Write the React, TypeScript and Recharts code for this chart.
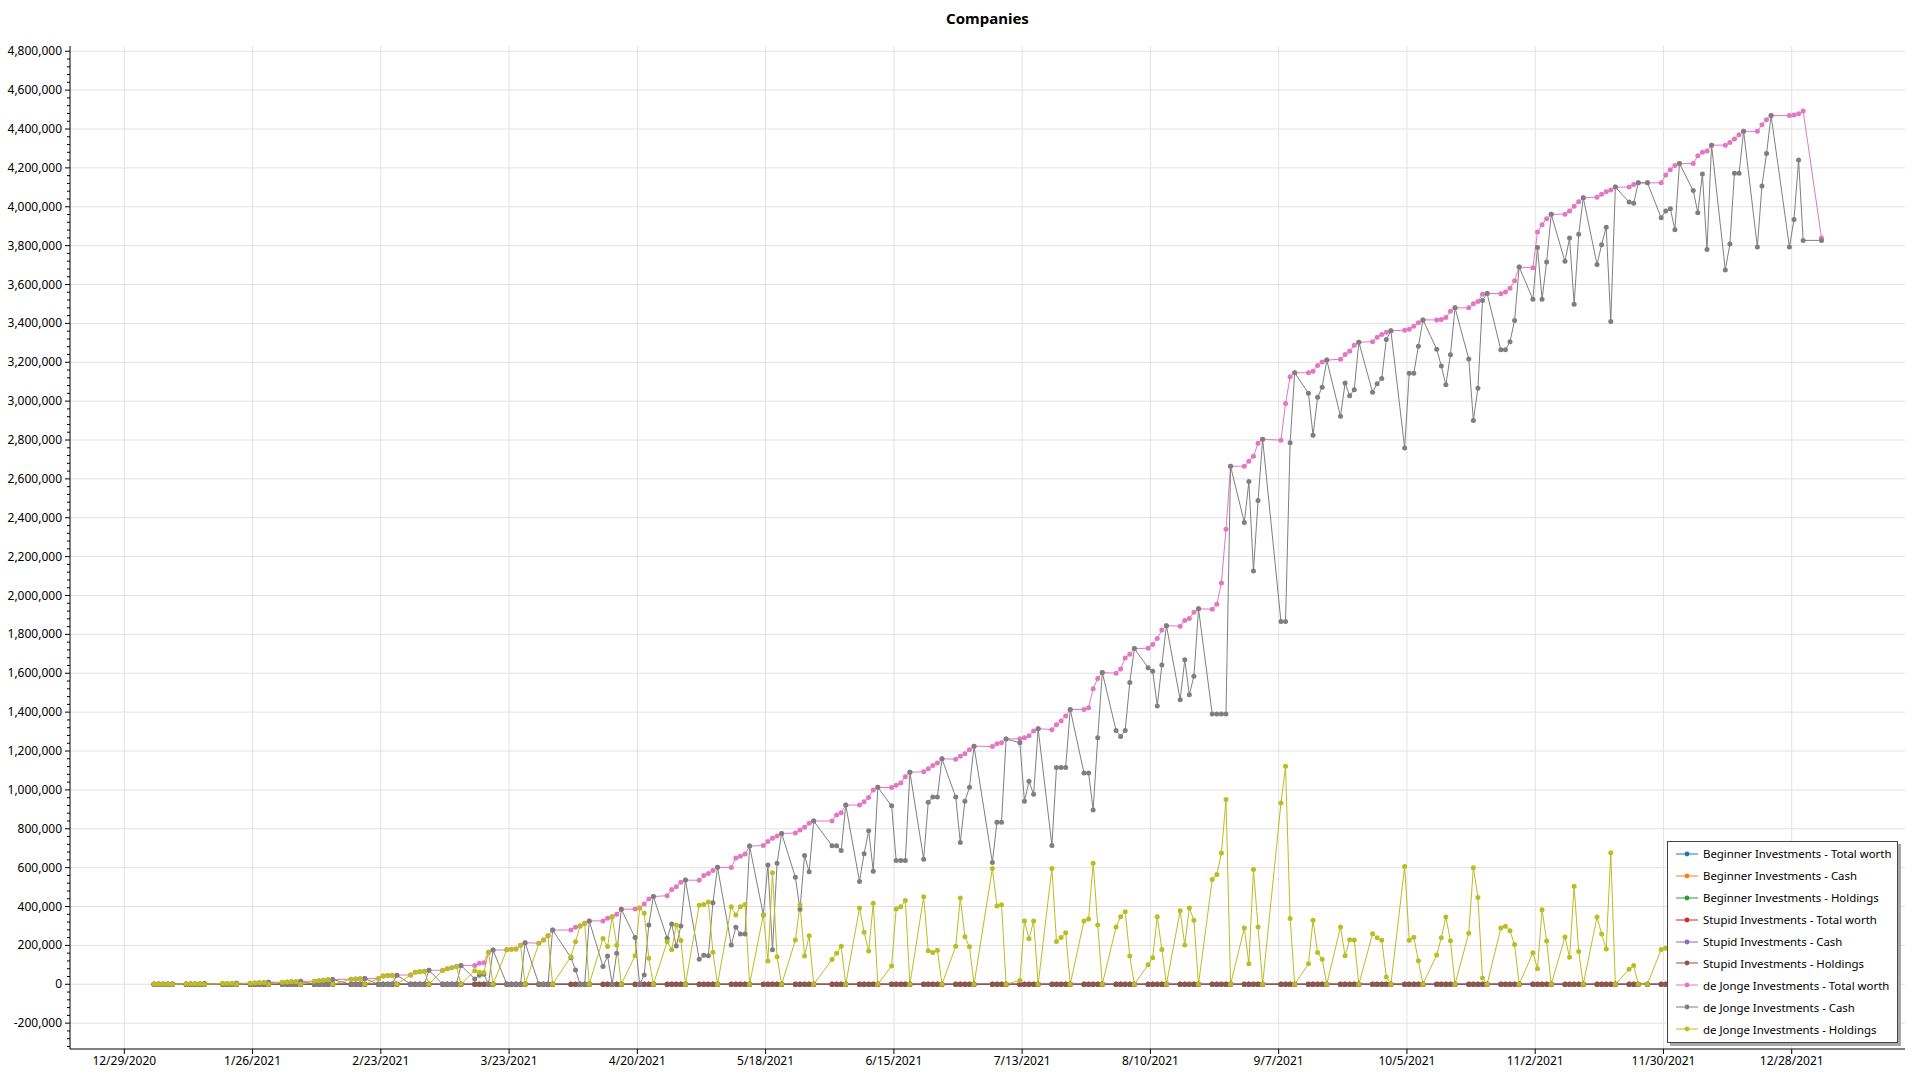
import React from 'react';
import { LineChart, Line, XAxis, YAxis, CartesianGrid, Legend } from 'recharts';

// US trading days of 2021 (plus the first one of 2022), market holidays skipped
const firstDay = '2021-01-04';
const lastDay = '2022-01-03';
const holidays = ['2021-01-18', '2021-02-15', '2021-04-02', '2021-05-31', '2021-07-05', '2021-09-06', '2021-11-25', '2021-12-24', '2021-12-31'];

const xTickDates = ['2020-12-29', '2021-01-26', '2021-02-23', '2021-03-23', '2021-04-20', '2021-05-18', '2021-06-15', '2021-07-13', '2021-08-10', '2021-09-07', '2021-10-05', '2021-11-02', '2021-11-30', '2021-12-28'];
const xDomainDates = ['2020-12-17T03:30:00Z', '2022-01-21T17:30:00Z'];

const yMajorTicks = [-200000, 0, 200000, 400000, 600000, 800000, 1000000, 1200000, 1400000, 1600000, 1800000, 2000000, 2200000, 2400000, 2600000, 2800000, 3000000, 3200000, 3400000, 3600000, 3800000, 4000000, 4200000, 4400000, 4600000, 4800000];
const yDomain = [-333000, 4827000];

// de Jonge Investments, one line per week
const deJongeTotal = [
  1000, 1200, 1500, 1700, 2000,
  2200, 2500, 2800, 3200, 3500,
  3800, 4200, 4600, 5000,
  5500, 6500, 7500, 8500, 10000,
  10500, 11500, 12500, 13500, 15000,
  16000, 18000, 21000, 23000, 24500,
  26000, 27500, 28500, 29500,
  30000, 43000, 44500, 45500, 47000,
  48000, 62000, 65000, 67000, 72000,
  72000, 80000, 85000, 91000, 97000,
  97000, 108000, 111000, 165000, 176000,
  177000, 180000, 182000, 201000, 214000,
  211000, 228000, 249000, 279000,
  279000, 293000, 300000, 314000, 326000,
  326000, 340000, 348000, 360000, 386000,
  387000, 393000, 413000, 439000, 451000,
  456000, 487000, 502000, 525000, 536000,
  535000, 559000, 570000, 585000, 602000,
  601000, 650000, 658000, 670000, 711000,
  714000, 734000, 751000, 763000, 776000,
  778000, 794000, 808000, 828000, 840000,
  840000, 871000, 883000, 922000,
  922000, 939000, 961000, 999000, 1013000,
  1012000, 1024000, 1036000, 1068000, 1091000,
  1093000, 1109000, 1126000, 1138000, 1160000,
  1158000, 1173000, 1186000, 1206000, 1225000,
  1223000, 1237000, 1243000, 1262000,
  1263000, 1268000, 1278000, 1303000, 1315000,
  1310000, 1335000, 1355000, 1380000, 1414000,
  1413000, 1423000, 1520000, 1573000, 1604000,
  1600000, 1622000, 1679000, 1698000, 1727000,
  1729000, 1748000, 1779000, 1822000, 1845000,
  1842000, 1871000, 1882000, 1914000, 1932000,
  1929000, 1955000, 2065000, 2341000, 2665000,
  2665000, 2691000, 2717000, 2783000, 2804000,
  2799000, 2988000, 3125000, 3146000,
  3146000, 3154000, 3183000, 3201000, 3211000,
  3216000, 3240000, 3257000, 3287000, 3303000,
  3306000, 3329000, 3343000, 3355000, 3362000,
  3365000, 3370000, 3385000, 3403000, 3418000,
  3418000, 3420000, 3430000, 3462000, 3480000,
  3480000, 3501000, 3512000, 3550000, 3554000,
  3553000, 3562000, 3581000, 3619000, 3690000,
  3686000, 3870000, 3908000, 3938000, 3961000,
  3962000, 3978000, 4003000, 4026000, 4046000,
  4049000, 4064000, 4077000, 4086000, 4101000,
  4101000, 4114000, 4123000, 4123000,
  4123000, 4163000, 4191000, 4212000, 4222000,
  4222000, 4262000, 4280000, 4287000, 4317000,
  4317000, 4330000, 4348000, 4370000, 4388000,
  4388000, 4422000, 4447000, 4469000,
  4469000, 4472000, 4478000, 4493000,
  3839000,
];

const deJongeCash = [
  0, 0, 0, 0, 2000,
  0, 0, 0, 0, 3500,
  0, 0, 0, 5000,
  0, 0, 0, 0, 10000,
  0, 0, 0, 0, 15000,
  0, 0, 0, 0, 24500,
  0, 0, 0, 29500,
  0, 0, 0, 0, 47000,
  0, 0, 0, 0, 72000,
  0, 0, 0, 0, 97000,
  27000, 46000, 51000, 0, 176000,
  0, 0, 0, 0, 214000,
  0, 0, 0, 279000,
  137000, 74000, 0, 0, 326000,
  91000, 146000, 0, 159000, 386000,
  240000, 0, 48000, 305000, 451000,
  237000, 310000, 197000, 300000, 536000,
  129000, 149000, 147000, 420000, 602000,
  202000, 293000, 259000, 259000, 711000,
  357000, 614000, 177000, 622000, 776000,
  550000, 386000, 662000, 579000, 840000,
  712000, 712000, 688000, 922000,
  529000, 672000, 790000, 582000, 1013000,
  918000, 637000, 637000, 637000, 1091000,
  643000, 936000, 963000, 963000, 1160000,
  963000, 729000, 942000, 1013000, 1225000,
  627000, 834000, 834000, 1262000,
  1243000, 942000, 1044000, 977000, 1315000,
  714000, 1115000, 1115000, 1115000, 1414000,
  1087000, 1087000, 897000, 1268000, 1604000,
  1306000, 1275000, 1306000, 1553000, 1727000,
  1629000, 1611000, 1432000, 1643000, 1845000,
  1464000, 1669000, 1490000, 1585000, 1932000,
  1390000, 1390000, 1390000, 1390000, 2665000,
  2376000, 2586000, 2126000, 2489000, 2804000,
  1866000, 1866000, 2786000, 3146000,
  3041000, 2825000, 3020000, 3072000, 3211000,
  2922000, 3093000, 3028000, 3059000, 3303000,
  3046000, 3090000, 3116000, 3317000, 3362000,
  2759000, 3143000, 3143000, 3282000, 3418000,
  3267000, 3181000, 3084000, 3238000, 3480000,
  3217000, 2901000, 3066000, 3518000, 3554000,
  3264000, 3264000, 3306000, 3415000, 3690000,
  3524000, 3790000, 3524000, 3716000, 3961000,
  3719000, 3839000, 3499000, 3858000, 4046000,
  3703000, 3805000, 3895000, 3410000, 4101000,
  4024000, 4018000, 4123000, 4123000,
  3944000, 3978000, 3990000, 3882000, 4222000,
  4083000, 3969000, 4169000, 3780000, 4317000,
  3675000, 3808000, 4172000, 4172000, 4388000,
  3793000, 4107000, 4274000, 4469000,
  3793000, 3935000, 4240000, 3827000,
  3827000,
];

const deJongeHoldings = [
  1000, 1200, 1500, 1700, 0,
  2200, 2500, 2800, 3200, 0,
  3800, 4200, 4600, 0,
  5500, 6500, 7500, 8500, 0,
  10500, 11500, 12500, 13500, 0,
  16000, 18000, 21000, 23000, 0,
  26000, 27500, 28500, 0,
  30000, 43000, 44500, 45500, 0,
  48000, 62000, 65000, 67000, 0,
  72000, 80000, 85000, 91000, 0,
  70000, 62000, 60000, 165000, 0,
  177000, 180000, 182000, 201000, 0,
  211000, 228000, 249000, 0,
  142000, 219000, 300000, 314000, 0,
  235000, 194000, 348000, 201000, 0,
  147000, 393000, 365000, 134000, 0,
  219000, 177000, 305000, 225000, 0,
  406000, 410000, 423000, 165000, 0,
  399000, 357000, 399000, 411000, 0,
  357000, 120000, 574000, 141000, 0,
  228000, 408000, 146000, 249000, 0,
  128000, 159000, 195000, 0,
  393000, 267000, 171000, 417000, 0,
  94000, 387000, 399000, 431000, 0,
  450000, 173000, 163000, 175000, 0,
  195000, 444000, 244000, 193000, 0,
  596000, 403000, 409000, 0,
  20000, 326000, 234000, 326000, 0,
  596000, 220000, 240000, 265000, 0,
  326000, 336000, 623000, 305000, 0,
  294000, 347000, 373000, 145000, 0,
  100000, 137000, 347000, 179000, 0,
  378000, 202000, 392000, 329000, 0,
  539000, 565000, 675000, 951000, 0,
  289000, 105000, 591000, 294000, 0,
  933000, 1122000, 339000, 0,
  105000, 329000, 163000, 129000, 0,
  294000, 147000, 229000, 228000, 0,
  260000, 239000, 227000, 38000, 0,
  606000, 227000, 242000, 121000, 0,
  151000, 239000, 346000, 224000, 0,
  263000, 600000, 446000, 32000, 0,
  289000, 298000, 275000, 204000, 0,
  162000, 80000, 384000, 222000, 0,
  243000, 139000, 504000, 168000, 0,
  346000, 259000, 182000, 676000, 0,
  77000, 96000, 0, 0,
  179000, 185000, 201000, 330000, 0,
  139000, 293000, 111000, 507000, 0,
  642000, 522000, 176000, 198000, 0,
  595000, 315000, 173000, 0,
  676000, 537000, 238000, 666000,
  12000,
];

const DAY = 86400000;
const tradingDays: number[] = [];
for (let t = Date.parse(firstDay); t <= Date.parse(lastDay); t += DAY) {
  const wd = new Date(t).getUTCDay();
  const iso = new Date(t).toISOString().slice(0, 10);
  if (wd !== 0 && wd !== 6 && !holidays.includes(iso)) tradingDays.push(t + DAY / 2);
}

// Beginner and Stupid Investments sit flat on zero the whole year
const beginnerTotal = tradingDays.map(() => 0);
const beginnerCash = tradingDays.map(() => 0);
const beginnerHoldings = tradingDays.map(() => 0);
const stupidTotal = tradingDays.map(() => 0);
const stupidCash = tradingDays.map(() => 0);
const stupidHoldings = tradingDays.map(() => 0);

const rows = tradingDays.map((t, i) => ({
  t,
  bTotal: beginnerTotal[i],
  bCash: beginnerCash[i],
  bHold: beginnerHoldings[i],
  sTotal: stupidTotal[i],
  sCash: stupidCash[i],
  sHold: stupidHoldings[i],
  jTotal: deJongeTotal[i],
  jCash: deJongeCash[i],
  jHold: deJongeHoldings[i],
}));

const series = [
  { key: 'bTotal', name: 'Beginner Investments - Total worth', color: '#1f77b4' },
  { key: 'bCash', name: 'Beginner Investments - Cash', color: '#ff7f0e' },
  { key: 'bHold', name: 'Beginner Investments - Holdings', color: '#2ca02c' },
  { key: 'sTotal', name: 'Stupid Investments - Total worth', color: '#d62728' },
  { key: 'sCash', name: 'Stupid Investments - Cash', color: '#9467bd' },
  { key: 'sHold', name: 'Stupid Investments - Holdings', color: '#8c564b' },
  { key: 'jTotal', name: 'de Jonge Investments - Total worth', color: '#e377c2' },
  { key: 'jCash', name: 'de Jonge Investments - Cash', color: '#7f7f7f' },
  { key: 'jHold', name: 'de Jonge Investments - Holdings', color: '#bcbd22' },
];

const xTicks = xTickDates.map((d) => Date.parse(d));
const xDomain = xDomainDates.map((d) => Date.parse(d));

// minor ticks every 40,000 between the labelled ones
const yTicks: number[] = [];
yMajorTicks.forEach((v) => {
  for (let k = 4; k >= 1; k--) if (v - k * 40000 >= yDomain[0]) yTicks.push(v - k * 40000);
  yTicks.push(v);
});

const fmtDate = (v: number) => {
  const d = new Date(v);
  return `${d.getUTCMonth() + 1}/${d.getUTCDate()}/${d.getUTCFullYear()}`;
};

const YTick = (props: any) => {
  const { x, y, payload } = props;
  const major = payload.value % 200000 === 0;
  return (
    <g>
      <line x1={x - (major ? 5 : 3)} x2={x} y1={y} y2={y} stroke="#000" />
      {major && (
        <text x={x - 8} y={y} dy={4} textAnchor="end" fontSize={12} fill="#000">
          {payload.value.toLocaleString('en-US')}
        </text>
      )}
    </g>
  );
};

// legend rows follow the series order (the library would sort them by name)
const LegendBox = () => (
  <div
    style={{
      boxSizing: 'border-box',
      width: 231,
      height: 202,
      border: '1px solid #444',
      background: '#fff',
      boxShadow: '3px 3px 0 #a8a8a8',
      padding: '1px 0 0 8px',
      fontSize: 11.4,
      color: '#000',
      overflow: 'hidden',
    }}
  >
    {series.map((s) => (
      <div key={s.key} style={{ display: 'flex', alignItems: 'center', height: 21.9, whiteSpace: 'nowrap' }}>
        <svg width={22} height={8} style={{ flex: 'none' }}>
          <line x1={0} x2={22} y1={4} y2={4} stroke={s.color} strokeWidth={1} />
          <circle cx={11} cy={4} r={2.4} fill={s.color} />
        </svg>
        <span style={{ marginLeft: 5 }}>{s.name}</span>
      </div>
    ))}
  </div>
);

const App: React.FC = () => {
  return (
    <div
      style={{
        position: 'absolute',
        left: 0,
        top: 0,
        width: 1920,
        height: 1080,
        background: '#fff',
        fontFamily: '"Segoe UI", "Noto Sans", sans-serif',
      }}
    >
      <div
        style={{
          position: 'absolute',
          left: 70,
          width: 1835,
          top: 8,
          textAlign: 'center',
          fontWeight: 'bold',
          fontSize: 15,
          color: '#000',
        }}
      >
        Companies
      </div>
      <LineChart width={1920} height={1080} data={rows} margin={{ top: 46, right: 15, bottom: 0, left: 0 }}>
        <CartesianGrid stroke="#e2e2e2" horizontalValues={yMajorTicks} verticalValues={xTicks} />
        <XAxis
          dataKey="t"
          type="number"
          scale="linear"
          domain={xDomain}
          allowDataOverflow
          ticks={xTicks}
          interval={0}
          tickFormatter={fmtDate}
          height={31}
          tickSize={5}
          tick={{ fill: '#000', fontSize: 12 }}
          axisLine={{ stroke: '#000' }}
          tickLine={{ stroke: '#000' }}
        />
        <XAxis
          xAxisId="top"
          orientation="top"
          type="number"
          domain={xDomain}
          allowDataOverflow
          height={0}
          tick={false}
          tickLine={false}
          axisLine={{ stroke: '#000' }}
        />
        <YAxis
          type="number"
          domain={yDomain}
          allowDataOverflow
          ticks={yTicks}
          interval={0}
          width={70}
          tickSize={0}
          tickMargin={0}
          tickLine={false}
          tick={<YTick />}
          axisLine={{ stroke: '#000' }}
        />
        <YAxis
          yAxisId="right"
          orientation="right"
          type="number"
          domain={yDomain}
          allowDataOverflow
          width={0}
          tick={false}
          tickLine={false}
          axisLine={{ stroke: '#000' }}
        />
        <Legend
          layout="horizontal"
          verticalAlign="middle"
          align="center"
          content={<LegendBox />}
          wrapperStyle={{ left: 1667, top: 841, width: 231, height: 202 }}
        />
        {series.map((s) => (
          <Line
            key={s.key}
            dataKey={s.key}
            name={s.name}
            type="linear"
            stroke={s.color}
            strokeWidth={1}
            dot={{ r: 2.5, fill: s.color, stroke: s.color, strokeWidth: 0 }}
            activeDot={false}
            isAnimationActive={false}
          />
        ))}
      </LineChart>
    </div>
  );
};

export default App;
